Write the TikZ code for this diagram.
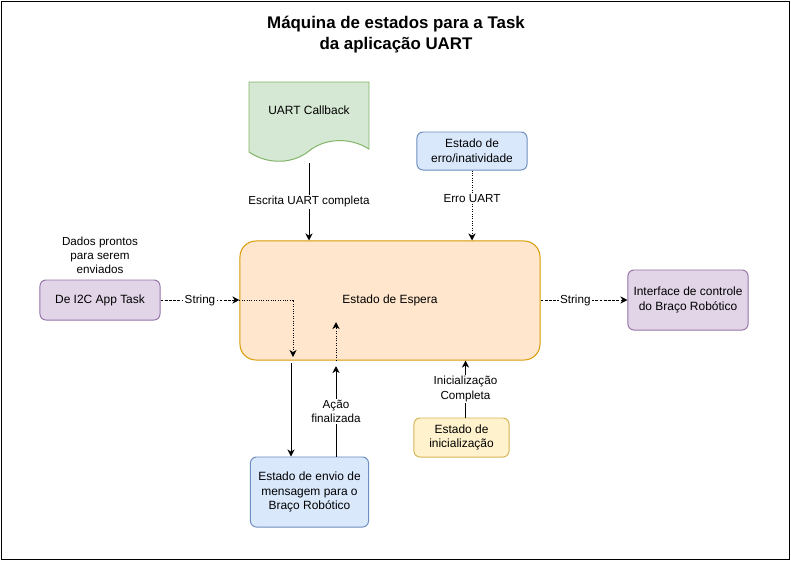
\documentclass[tikz,border=0pt]{standalone}
\usepackage{fontspec}
\setmainfont{Liberation Sans}
\usepackage{tikz}
\usetikzlibrary{shapes, arrows, arrows.meta}

\definecolor{verdeF}{HTML}{D5E8D4}
\definecolor{verdeB}{HTML}{82B366}
\definecolor{azulF}{HTML}{DAE8FC}
\definecolor{azulB}{HTML}{6C8EBF}
\definecolor{laranjaF}{HTML}{FFE6CC}
\definecolor{laranjaB}{HTML}{D79B00}
\definecolor{roxoF}{HTML}{E1D5E7}
\definecolor{roxoB}{HTML}{9673A6}
\definecolor{amareloF}{HTML}{FFF2CC}
\definecolor{amareloB}{HTML}{D6B656}

\tikzset{
	caixa/.style={rectangle, draw, rounded corners=0.15cm, align=center, font=\fontsize{8.5}{10.5}\selectfont},
	rotulo/.style={fill=white, inner sep=1pt, align=center, font=\fontsize{8.3}{10}\selectfont},
	tracejado/.style={dash pattern=on 2pt off 1pt},
}

\begin{document}
\begin{tikzpicture}[x=0.025cm, y=-0.025cm, >={Stealth[length=5pt, width=5pt, inset=1.5pt]}, line width=0.7pt]
	\useasboundingbox (0,0) rectangle (791,561);
	\draw (1.5,1.5) rectangle (789.5,559.5);
	\node at (396,35) [align=center, font=\bfseries\fontsize{12}{15}\selectfont] (titulo) {Máquina de estados para a Task\\da aplicação UART};
	% callback (documento)
	\draw[fill=verdeF, draw=verdeB] (249,82) -- (369,82) -- (369,149) .. controls (350,137) and (325,138) .. (309,151) .. controls (293,164) and (268,165) .. (249,152) -- cycle;
	\node at (309,110) [font=\fontsize{8.5}{10.5}\selectfont] (cb) {UART Callback};
	\coordinate (cbsai) at (309,163);
	\node at (472,151) [caixa, fill=azulF, draw=azulB, minimum width=2.75cm, minimum height=0.95cm] (erro) {Estado de\\erro/inatividade};
	\node at (390,300.5) [caixa, fill=laranjaF, draw=laranjaB, rounded corners=0.4cm, minimum width=7.5cm, minimum height=2.975cm] (espera) {Estado de Espera};
	\node at (100,300) [caixa, fill=roxoF, draw=roxoB, minimum width=3cm, minimum height=1cm] (i2c) {De I2C App Task};
	\node at (100,255) [rotulo] (dados) {Dados prontos\\para serem\\enviados};
	\node at (688,300) [caixa, fill=roxoF, draw=roxoB, minimum width=3cm, minimum height=1.5cm] (iface) {Interface de controle\\do Braço Robótico};
	\node at (309.5,492) [caixa, fill=azulF, draw=azulB, minimum width=2.95cm, minimum height=1.75cm] (envio) {Estado de envio de\\mensagem para o\\Braço Robótico};
	\node at (461.5,437.5) [caixa, fill=amareloF, draw=amareloB, minimum width=2.375cm, minimum height=0.975cm] (ini) {Estado de\\inicialização};
	% conexoes
	\draw[->] (cbsai) -- (cbsai |- espera.north) node[rotulo, midway] {Escrita UART completa};
	\draw[->, densely dotted] (erro.south) -- (erro.south |- espera.north) node[rotulo, pos=0.4] {Erro UART};
	\draw[->, tracejado] (i2c.east) -- (i2c.east -| espera.west) node[rotulo, midway] {String};
	\coordinate (desce) at (293,357);
	\draw[->, densely dotted] (i2c.east -| espera.west) -| (desce);
	\coordinate (saienvio) at (291,363);
	\draw[->] (saienvio) -- (saienvio |- envio.north);
	\coordinate (volta) at (336,322);
	\coordinate (chega) at (336,366);
	\draw[->] (envio.north -| volta) -- (chega) node[rotulo, midway] {Ação\\finalizada};
	\draw[->, densely dotted] (volta |- espera.south) -- (volta);
	\draw[->] ([xshift=0.1cm]ini.north) -- ([xshift=0.1cm]ini.north |- espera.south) node[rotulo, midway] {Inicialização\\Completa};
	\draw[->, tracejado] (espera.east |- iface.west) -- (iface.west) node[rotulo, pos=0.4] {String};
\end{tikzpicture}
\end{document}
